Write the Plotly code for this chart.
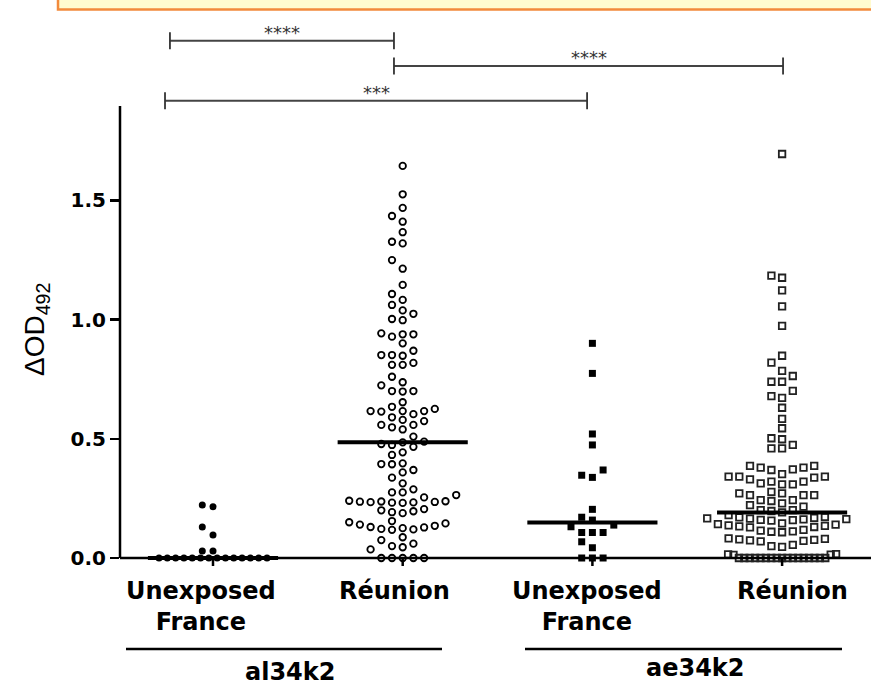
import numpy as np
import plotly.graph_objects as go

# ---------------- data ----------------
group_labels = ["Unexposed<br>France", "Réunion", "Unexposed<br>France", "Réunion"]
antigen_labels = ["al34k2", "ae34k2"]
y_tick_vals = [0.0, 0.5, 1.0, 1.5]
y_tick_text = ["0.0", "0.5", "1.0", "1.5"]
sig_labels = ["****", "****", "***"]

al34k2_unexposed = [0.222, 0.215, 0.130, 0.096, 0.029, 0.029,
                    0.0, 0.0, 0.0, 0.0, 0.0, 0.0, 0.0, 0.0, 0.0, 0.0, 0.0, 0.0, 0.0, 0.0]

al34k2_reunion = [1.644, 1.525, 1.468, 1.434, 1.410, 1.366, 1.326, 1.319, 1.249, 1.213,
                  1.145, 1.107, 1.082, 1.061, 1.038, 1.024, 1.002, 0.997, 0.942, 0.938,
                  0.938, 0.928, 0.900, 0.869, 0.851, 0.851, 0.848,
                  0.818, 0.810, 0.810, 0.760,
                  0.737, 0.724, 0.700, 0.700, 0.698, 0.653,
                  0.634, 0.625, 0.616, 0.616, 0.614, 0.616, 0.603, 0.590,
                  0.579, 0.574, 0.558, 0.558, 0.548, 0.539, 0.509,
                  0.488, 0.485, 0.478, 0.474, 0.466, 0.443, 0.432,
                  0.397, 0.394, 0.393, 0.369, 0.359, 0.337, 0.313,
                  0.288, 0.275, 0.275, 0.264, 0.254,
                  0.238, 0.236, 0.234, 0.232, 0.231, 0.233, 0.235, 0.237, 0.240,
                  0.205, 0.200, 0.196, 0.192, 0.188,
                  0.155, 0.150, 0.145, 0.140, 0.135, 0.130, 0.128, 0.125, 0.122, 0.120, 0.118,
                  0.087, 0.075, 0.060, 0.050, 0.045, 0.036,
                  0.0, 0.0, 0.0, 0.0, 0.0]

ae34k2_unexposed = [0.900, 0.774, 0.520, 0.474, 0.369, 0.347, 0.338, 0.204, 0.171, 0.159,
                    0.138, 0.131, 0.107, 0.107, 0.107, 0.068, 0.043, 0.0, 0.0, 0.0]

ae34k2_reunion = [1.694, 1.184, 1.175, 1.122, 1.055, 0.973,
                  0.848, 0.819, 0.785, 0.763, 0.739, 0.739, 0.701, 0.679, 0.671, 0.630,
                  0.583, 0.544, 0.502, 0.498, 0.474, 0.460, 0.460,
                  0.386, 0.379, 0.369, 0.352, 0.372, 0.379, 0.386,
                  0.341, 0.341, 0.330, 0.320, 0.309, 0.309, 0.313, 0.320, 0.337, 0.341,
                  0.271, 0.264, 0.264, 0.264, 0.271, 0.277,
                  0.243, 0.239, 0.229, 0.243, 0.222, 0.215,
                  0.201, 0.197, 0.201, 0.191,
                  0.180, 0.172, 0.170, 0.168, 0.166, 0.165, 0.163, 0.162, 0.160, 0.159, 0.157,
                  0.145, 0.142, 0.140, 0.137, 0.135, 0.133, 0.130, 0.128,
                  0.118, 0.115, 0.112, 0.110, 0.108,
                  0.082, 0.080, 0.078, 0.076, 0.074, 0.072, 0.070,
                  0.055, 0.050, 0.047,
                  0.016, 0.015, 0.014, 0.013,
                  0.0, 0.0, 0.0, 0.0, 0.0, 0.0, 0.0, 0.0, 0.0, 0.0, 0.0, 0.0, 0.0, 0.0, 0.0, 0.0, 0.0]

series = [al34k2_unexposed, al34k2_reunion, ae34k2_unexposed, ae34k2_reunion]

# significance comparisons (bar y level in data units, bar ends in category units)
sig_y = [2.169, 2.063, 1.917]
sig_x0 = [-0.227, 0.954, -0.253]
sig_x1 = [0.954, 3.005, 1.972]

# ---------------- layout geometry (page pixels) ----------------
PAGE_W, PAGE_H = 871, 688
W, H = PAGE_W, PAGE_H
PLOT_L, PLOT_R, PLOT_T = 120, 871, 15
ZERO_PX = 558          # page pixel row of y = 0
BOTTOM_PX = 563        # bottom of plot area
ML, MR, MT = PLOT_L, 0, PLOT_T
MB = PAGE_H - BOTTOM_PX
PW = PLOT_R - PLOT_L
PH = BOTTOM_PX - PLOT_T
Y_PX = 238.5           # pixels per y unit
X_PX = 189.7           # pixels per category
FIRST_PX = 213         # page pixel x of first category

x_range = [(PLOT_L - FIRST_PX) / X_PX, (PLOT_R - FIRST_PX) / X_PX]
y_range = [-(BOTTOM_PX - ZERO_PX) / Y_PX, (ZERO_PX - PLOT_T) / Y_PX]


def xdata(px):
    return (px - FIRST_PX) / X_PX


def ypaper(py):
    return (BOTTOM_PX - py) / PH


def xpaper(px):
    return (px - PLOT_L) / PW


def swarm(vals, slot=10.7, dmin=8.6, dmin_row=6.5, tie_width=108.0):
    v = np.asarray(vals, float)
    ypx = v * Y_PX
    offs = np.zeros(len(v))
    placed = []   # (x, y, min distance to keep)
    done = set()
    uniq, counts = np.unique(v, return_counts=True)
    for u, c in zip(uniq, counts):
        if (c - 1) * slot > tie_width:
            # crowded row: exact ties in the middle, near ties at the ends
            idx = [i for i in range(len(v)) if abs(ypx[i] - u * Y_PX) < dmin / 2 and i not in done]
            idx.sort(key=lambda i: abs(v[i] - u))
            n = len(idx)
            sp = tie_width / (n - 1)
            pos = sorted([(k - (n - 1) / 2) * sp for k in range(n)], key=lambda p: (abs(p), p))
            for i, p in zip(idx, pos):
                offs[i] = p
                placed.append((p, ypx[i], dmin_row))
                done.add(i)
    for i in np.argsort(v, kind="stable"):
        if i in done:
            continue
        for j in range(60):
            n = (j + 1) // 2
            cand = 0.0 if j == 0 else (-n if j % 2 == 1 else n) * slot
            ok = True
            for (px, py, dd) in placed:
                if (cand - px) ** 2 + (ypx[i] - py) ** 2 < dd ** 2:
                    ok = False
                    break
            if ok:
                offs[i] = cand
                placed.append((cand, ypx[i], dmin))
                break
    return offs / X_PX


marker_styles = [
    dict(symbol="circle", size=7, color="black", line=dict(width=0)),
    dict(symbol="circle-open", size=6.5, color="black", line=dict(width=1.8)),
    dict(symbol="square", size=7, color="black", line=dict(width=0)),
    dict(symbol="square-open", size=6.5, color="#222", line=dict(width=1.8)),
]

fig = go.Figure()
MED_HALF = 0.343
for i, vals in enumerate(series):
    xs = i + swarm(vals)
    fig.add_trace(go.Scatter(x=xs, y=vals, mode="markers", marker=marker_styles[i],
                             cliponaxis=False, showlegend=False, hoverinfo="skip"))
for i, vals in enumerate(series):
    m = float(np.median(vals))
    fig.add_trace(go.Scatter(x=[i - MED_HALF, i + MED_HALF], y=[m, m], mode="lines",
                             line=dict(color="black", width=4), showlegend=False,
                             hoverinfo="skip"))

shapes = []
# banner at the top
shapes.append(dict(type="rect", xref="paper", yref="paper", x0=xpaper(58), x1=xpaper(900),
                   y0=ypaper(9.5), y1=ypaper(-30), fillcolor="#FFFBCF",
                   line=dict(color="#F28A3C", width=2.5), layer="below"))
# axes lines
shapes.append(dict(type="line", xref="paper", yref="y", x0=0, x1=0, y0=0, y1=1.895,
                   line=dict(color="black", width=2.5)))
shapes.append(dict(type="line", xref="paper", yref="y", x0=0, x1=1, y0=0, y1=0,
                   line=dict(color="black", width=2.5)))
for i in range(len(series)):
    shapes.append(dict(type="line", xref="x", yref="paper", x0=i, x1=i,
                       y0=ypaper(ZERO_PX), y1=ypaper(ZERO_PX + 8),
                       line=dict(color="black", width=2.5)))
# significance bars
TICK_H = 8.5 / Y_PX
for x0, x1, yv in zip(sig_x0, sig_x1, sig_y):
    shapes.append(dict(type="line", xref="x", yref="y", x0=x0, x1=x1, y0=yv, y1=yv,
                       line=dict(color="#444", width=2)))
    for xe in (x0, x1):
        shapes.append(dict(type="line", xref="x", yref="y", x0=xe, x1=xe,
                           y0=yv - TICK_H, y1=yv + TICK_H, line=dict(color="#333", width=1.8)))
# antigen underlines
antigen_line_px = [(126, 442), (525, 842)]
for a, b in antigen_line_px:
    shapes.append(dict(type="line", xref="x", yref="paper", x0=xdata(a), x1=xdata(b),
                       y0=ypaper(649), y1=ypaper(649), line=dict(color="black", width=2.5)))

annotations = []
for x0, x1, yv, lab in zip(sig_x0, sig_x1, sig_y, sig_labels):
    annotations.append(dict(x=(x0 + x1) / 2, y=yv, xref="x", yref="y", text=lab,
                            showarrow=False, yanchor="middle", yshift=8,
                            font=dict(family="DejaVu Sans", size=18, color="#333")))
cat_label_dx = [-12, -8, -5, 10]
for i, lab in enumerate(group_labels):
    annotations.append(dict(x=i, y=0, xref="x", yref="y", text=lab, showarrow=False,
                            xanchor="center", yanchor="top", yshift=-17, xshift=cat_label_dx[i],
                            font=dict(family="DejaVu Sans", size=24, color="black", weight="bold")))
antigen_center_px = [290, 695]
antigen_top_px = [656, 652]
for lab, cx, tp in zip(antigen_labels, antigen_center_px, antigen_top_px):
    annotations.append(dict(x=xdata(cx), y=0, xref="x", yref="y", text=lab, showarrow=False,
                            xanchor="center", yanchor="top", yshift=-(tp - ZERO_PX),
                            font=dict(family="DejaVu Sans", size=24, color="black", weight="bold")))
annotations.append(dict(x=xpaper(36), y=ypaper(330), xref="paper", yref="paper",
                        text="ΔOD<sub>492</sub>", showarrow=False, textangle=-90,
                        xanchor="center", yanchor="middle",
                        font=dict(family="Liberation Sans", size=28, color="black")))

fig.update_layout(
    width=W, height=H,
    margin=dict(l=ML, r=MR, t=MT, b=MB, pad=0),
    paper_bgcolor="white", plot_bgcolor="white",
    showlegend=False, hovermode=False,
    shapes=shapes, annotations=annotations,
    xaxis=dict(range=x_range, showgrid=False, zeroline=False, showline=False,
               showticklabels=False, ticks=""),
    yaxis=dict(range=y_range, showgrid=False, zeroline=False, showline=False,
               tickvals=y_tick_vals, ticktext=y_tick_text, ticks="outside",
               ticklen=9, tickwidth=2.5, tickcolor="black",
               tickfont=dict(family="DejaVu Sans", size=20, color="black", weight="bold")),
)

fig.write_html("out.html", config={"displayModeBar": False, "staticPlot": True},
               post_script="document.body.style.margin='0';document.documentElement.style.overflow='hidden';")
